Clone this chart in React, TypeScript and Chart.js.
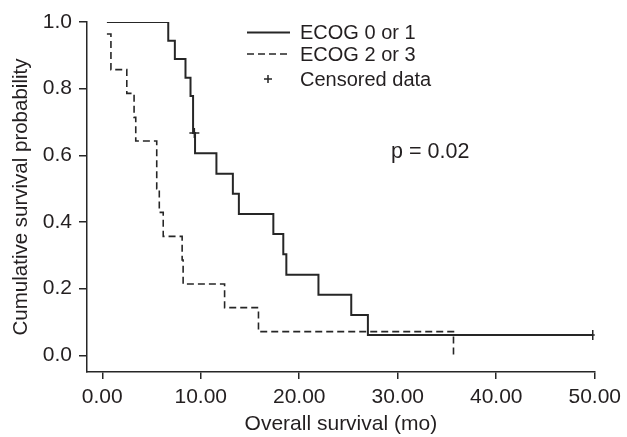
import React, { useEffect, useRef } from "react";
import { Chart, registerables } from "chart.js";

Chart.register(...registerables);

// Kaplan–Meier curves
const ecog01Times = [0.47, 6.7, 7.37, 8.45, 8.96, 9.22, 9.42, 11.59, 13.26, 13.87, 17.37, 18.38, 18.69, 21.95, 25.28, 26.97, 49.8];
const ecog01Surv = [1.0, 0.944, 0.889, 0.833, 0.778, 0.667, 0.606, 0.545, 0.485, 0.424, 0.364, 0.303, 0.242, 0.182, 0.121, 0.061, 0.061];
const ecog23Times = [0.47, 0.88, 2.49, 3.23, 3.4, 5.53, 5.79, 6.19, 8.11, 8.21, 12.42, 15.86, 35.66];
const ecog23Surv = [0.964, 0.857, 0.786, 0.714, 0.643, 0.5, 0.429, 0.357, 0.286, 0.214, 0.143, 0.071, 0.0];
const censorTimes = [9.35, 49.8];
const censorSurv = [0.667, 0.061];
const xTicks = [0, 10, 20, 30, 40, 50];
const yTicks = [0, 0.2, 0.4, 0.6, 0.8, 1.0];
const legendLabels = ["ECOG 0 or 1", "ECOG 2 or 3", "Censored data"];
const pValueText = "p = 0.02";
const xTitle = "Overall survival (mo)";
const yTitle = "Cumulative survival probability";

const FONT = "'Liberation Sans', Arial, sans-serif";
const INK = "#231f20";
const LINE = "#262626";

const overlayPlugin = {
  id: "overlay",
  afterDraw(chart: any) {
    const ctx = chart.ctx;
    const { left, top } = chart.chartArea;
    ctx.save();
    // legend
    const lx0 = left + 160;
    const lx1 = left + 203;
    const tx = left + 213;
    const rows = [top + 10.5, top + 32, top + 57];
    ctx.strokeStyle = LINE;
    ctx.lineWidth = 2;
    ctx.setLineDash([]);
    ctx.beginPath();
    ctx.moveTo(lx0, rows[0]);
    ctx.lineTo(lx1, rows[0]);
    ctx.stroke();
    ctx.lineWidth = 1.6;
    ctx.setLineDash([7, 4]);
    ctx.beginPath();
    ctx.moveTo(lx0, rows[1]);
    ctx.lineTo(lx1, rows[1]);
    ctx.stroke();
    ctx.setLineDash([]);
    ctx.lineWidth = 1.5;
    const cx = left + 181;
    ctx.beginPath();
    ctx.moveTo(cx - 4, rows[2]);
    ctx.lineTo(cx + 4, rows[2]);
    ctx.moveTo(cx, rows[2] - 4);
    ctx.lineTo(cx, rows[2] + 4);
    ctx.stroke();
    ctx.fillStyle = INK;
    ctx.font = `20px ${FONT}`;
    ctx.textAlign = "left";
    ctx.textBaseline = "middle";
    legendLabels.forEach((t, i) => ctx.fillText(t, tx, rows[i] + 1));
    // p value
    const xs = chart.scales.x;
    const ys = chart.scales.y;
    ctx.font = `21.5px ${FONT}`;
    ctx.textAlign = "center";
    ctx.fillText(pValueText, xs.getPixelForValue(33.3), ys.getPixelForValue(0.61));
    ctx.restore();
  },
};

export default function App() {
  const ref = useRef<HTMLCanvasElement | null>(null);
  useEffect(() => {
    document.body.style.margin = "0";
    const canvas = ref.current!;
    const chart = new Chart(canvas, {
      type: "line",
      data: {
        datasets: [
          {
            label: legendLabels[0],
            data: ecog01Times.map((t, i) => ({ x: t, y: ecog01Surv[i] })),
            stepped: true,
            borderColor: LINE,
            borderWidth: 2,
            pointRadius: 0,
            fill: false,
          },
          {
            label: legendLabels[1],
            data: ecog23Times.map((t, i) => ({ x: t, y: ecog23Surv[i] })),
            stepped: true,
            borderColor: LINE,
            borderWidth: 1.6,
            borderDash: [7, 4],
            pointRadius: 0,
            fill: false,
          },
          {
            type: "scatter",
            label: legendLabels[2],
            data: censorTimes.map((t, i) => ({ x: t, y: censorSurv[i] })),
            showLine: false,
            pointStyle: "cross",
            pointRadius: 5,
            borderColor: LINE,
            borderWidth: 1.5,
          } as any,
        ],
      },
      options: {
        responsive: false,
        animation: false,
        events: [],
        layout: { padding: { left: 0, right: 30, top: 22, bottom: 0 } },
        plugins: { legend: { display: false }, tooltip: { enabled: false } },
        scales: {
          x: {
            type: "linear",
            min: -1.55,
            max: 50,
            afterBuildTicks: (s: any) => {
              s.ticks = xTicks.map((v) => ({ value: v }));
            },
            afterFit: (s: any) => {
              s.height = 65;
            },
            ticks: {
              color: INK,
              font: { family: FONT, size: 21 },
              padding: 6,
              callback: (v: any) => Number(v).toFixed(2),
              maxRotation: 0,
              autoSkip: false,
            },
            grid: { display: true, drawOnChartArea: false, drawTicks: true, tickLength: 7, color: LINE, lineWidth: 1.5 },
            border: { display: true, color: LINE, width: 1.5 },
            title: { display: true, text: xTitle, color: INK, font: { family: FONT, size: 21 }, padding: { top: 0, bottom: 0 } },
          },
          y: {
            type: "linear",
            min: -0.05,
            max: 1.0,
            afterBuildTicks: (s: any) => {
              s.ticks = yTicks.map((v) => ({ value: v }));
            },
            afterFit: (s: any) => {
              s.width = 87;
            },
            ticks: {
              color: INK,
              font: { family: FONT, size: 21 },
              padding: 7,
              callback: (v: any) => Number(v).toFixed(1),
              autoSkip: false,
            },
            grid: { display: true, drawOnChartArea: false, drawTicks: true, tickLength: 8, color: LINE, lineWidth: 1.5 },
            border: { display: true, color: LINE, width: 1.5 },
            title: { display: true, text: yTitle, color: INK, font: { family: FONT, size: 20.5 }, padding: { top: 9, bottom: 0 } },
          },
        },
      },
      plugins: [overlayPlugin],
    });
    return () => chart.destroy();
  }, []);
  return <canvas ref={ref} width={627} height={437} style={{ display: "block" }} />;
}
